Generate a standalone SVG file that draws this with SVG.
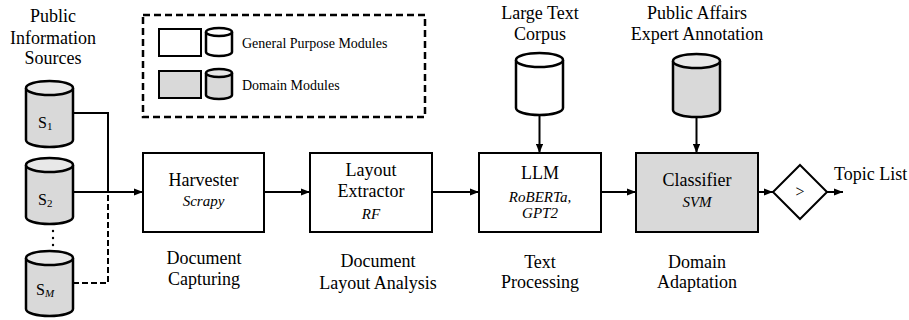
<svg xmlns="http://www.w3.org/2000/svg" width="909" height="320" viewBox="0 0 909 320">
<style>
text{font-family:"Liberation Serif","Times New Roman",serif;fill:#000}
.t{font-size:18px;text-anchor:middle}
.i{font-size:15px;font-style:italic;text-anchor:middle}
.lg{font-size:14px}
.box{fill:#fff;stroke:#000;stroke-width:2}
.dbox{fill:#d9d9d9;stroke:#000;stroke-width:2}
.cyl{fill:#fff;stroke:#000;stroke-width:2.5}
.dcyl{fill:#d9d9d9;stroke:#000;stroke-width:2.5}
.dtop{fill:#e8e8e8;stroke:#000;stroke-width:2.5}
.ln{fill:none;stroke:#000;stroke-width:2}
.ar{fill:none;stroke:#000;stroke-width:2;marker-end:url(#ah)}
.ds{fill:none;stroke:#000;stroke-width:2;stroke-dasharray:6 3}
</style>
<defs>
<marker id="ah" viewBox="0 0 10 8" refX="10" refY="4" markerWidth="4.5" markerHeight="3.6" orient="auto" markerUnits="strokeWidth">
<path d="M0,0 L10,4 L0,8 Z" fill="#000"/>
</marker>
</defs>

<g id="legend">
<rect x="143" y="15" width="282" height="102" fill="none" stroke="#000" stroke-width="2.5" stroke-dasharray="7 4"/>
<rect class="box" x="159" y="29" width="42" height="27"/>
<path class="cyl" d="M206,32 V52 A13,4 0 0 0 232,52 V32"/>
<ellipse class="cyl" cx="219" cy="32" rx="13" ry="4"/>
<text class="lg" x="242" y="48">General Purpose Modules</text>
<rect class="dbox" x="159" y="71" width="42" height="27"/>
<path class="dcyl" d="M206,73 V95 A13,4 0 0 0 232,95 V73"/>
<ellipse class="dtop" cx="219" cy="73" rx="13" ry="4"/>
<text class="lg" x="242" y="90">Domain Modules</text>
</g>

<g id="sources-label">
<text class="t" x="53" y="22">Public</text>
<text class="t" x="53" y="44">Information</text>
<text class="t" x="53" y="64">Sources</text>
</g>

<g id="s1">
<path class="dcyl" d="M26,88 V140 A23.5,7 0 0 0 73,140 V88"/>
<ellipse class="dtop" cx="49.5" cy="88" rx="23.5" ry="7"/>
<text x="38" y="128" font-size="16">S<tspan font-size="11" dy="2">1</tspan></text>
</g>
<g id="s2">
<path class="dcyl" d="M26,165 V217 A23.5,7 0 0 0 73,217 V165"/>
<ellipse class="dtop" cx="49.5" cy="165" rx="23.5" ry="7"/>
<text x="38" y="205" font-size="16">S<tspan font-size="11" dy="2">2</tspan></text>
</g>
<g id="dots">
<circle cx="53" cy="231" r="1.2" fill="#000"/>
<circle cx="53" cy="238" r="1.2" fill="#000"/>
<circle cx="53" cy="245" r="1.2" fill="#000"/>
</g>
<g id="sm">
<path class="dcyl" d="M26,258 V309 A23.5,7 0 0 0 73,309 V258"/>
<ellipse class="dtop" cx="49.5" cy="258" rx="23.5" ry="7"/>
<text x="36" y="295" font-size="16">S<tspan font-size="11" font-style="italic" dy="2">M</tspan></text>
</g>

<g id="harvester">
<rect class="box" x="143" y="153" width="121" height="79"/>
<text class="t" x="203.5" y="186">Harvester</text>
<text class="i" x="203.5" y="206">Scrapy</text>
<text class="t" x="204" y="264">Document</text>
<text class="t" x="204" y="285">Capturing</text>
</g>

<g id="layout">
<rect class="box" x="310" y="153" width="122" height="79"/>
<text class="t" x="371" y="176">Layout</text>
<text class="t" x="371" y="197">Extractor</text>
<text class="i" x="371" y="219">RF</text>
<text class="t" x="378" y="267">Document</text>
<text class="t" x="378" y="289">Layout Analysis</text>
</g>

<g id="corpus">
<text class="t" x="540" y="19">Large Text</text>
<text class="t" x="540" y="40">Corpus</text>
<path class="cyl" d="M516,60 V108 A23.5,7 0 0 0 563,108 V60"/>
<ellipse class="cyl" cx="539.5" cy="60" rx="23.5" ry="7"/>
</g>

<g id="llm">
<rect class="box" x="479" y="153" width="122" height="79"/>
<text class="t" x="540" y="179">LLM</text>
<text class="i" x="540" y="202">RoBERTa,</text>
<text class="i" x="540" y="218">GPT2</text>
<text class="t" x="540" y="268">Text</text>
<text class="t" x="540" y="288">Processing</text>
</g>

<g id="annotation">
<text class="t" x="697" y="19">Public Affairs</text>
<text class="t" x="697" y="40">Expert Annotation</text>
<path class="dcyl" d="M673,61 V110 A23.5,7 0 0 0 720,110 V61"/>
<ellipse class="dtop" cx="696.5" cy="61" rx="23.5" ry="7"/>
</g>

<g id="classifier">
<rect class="dbox" x="636" y="153" width="122" height="79"/>
<text class="t" x="697" y="186">Classifier</text>
<text class="i" x="697" y="207">SVM</text>
<text class="t" x="697" y="268">Domain</text>
<text class="t" x="697" y="288">Adaptation</text>
</g>

<g id="threshold">
<path d="M800,165 L827,192 L800,219 L773,192 Z" fill="#fff" stroke="#000" stroke-width="2"/>
<text x="800" y="197" font-size="16" text-anchor="middle">&gt;</text>
</g>

<g id="output-label">
<text x="834" y="180" font-size="18">Topic List</text>
</g>

<g id="connectors">
<path class="ln" d="M73,113 H108 V192"/>
<path class="ds" d="M73,283 H108 V192"/>
<path class="ar" d="M73,192 H143"/>
<path class="ar" d="M264,192 H310"/>
<path class="ar" d="M432,192 H479"/>
<path class="ar" d="M601,192 H636"/>
<path class="ar" d="M539.5,116 V153"/>
<path class="ar" d="M696.5,118 V153"/>
<path class="ar" d="M758,192 H773"/>
<path class="ar" d="M827,192 H843"/>
</g>
</svg>
